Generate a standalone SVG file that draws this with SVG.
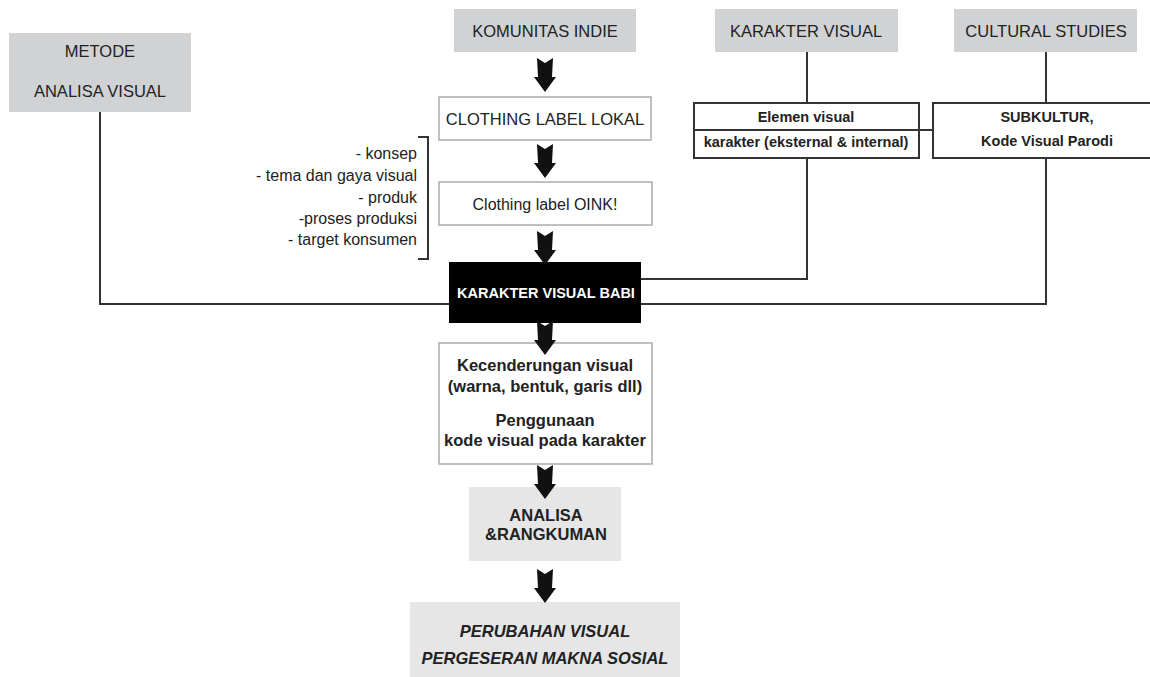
<svg xmlns="http://www.w3.org/2000/svg" width="1150" height="677" viewBox="0 0 1150 677">
<defs>
<style>
.t{font-family:"Liberation Sans",Arial,sans-serif;fill:#222;text-anchor:middle;dominant-baseline:central}
.r{font-size:16.5px}
.b{font-weight:bold}
.g{fill:#d1d2d4}
.g2{fill:#e6e6e7}
.lb{fill:#fff;stroke:#aaa;stroke-width:1.5}
.db{fill:#fff;stroke:#333;stroke-width:2}
.ln{fill:none;stroke:#333;stroke-width:2}
.li{font-family:"Liberation Sans",Arial,sans-serif;fill:#222;font-size:16px;text-anchor:end;dominant-baseline:central}
</style>
<path id="arr" d="M-8,0 L0,5 L8,0 L7,19 L11,19 L0,34 L-11,19 L-7,19 Z" fill="#111"/>
</defs>
<rect width="1150" height="677" fill="#fff"/>

<g id="connectors">
<polyline class="ln" points="100,112 100,304 449,304"/>
<polyline class="ln" points="641,279 807,279 807,158"/>
<polyline class="ln" points="641,304 1046,304 1046,158"/>
<line class="ln" x1="807" y1="52" x2="807" y2="103"/>
<line class="ln" x1="1046" y1="52" x2="1046" y2="103"/>
<line class="ln" x1="919" y1="130" x2="933" y2="130"/>
<polyline class="ln" points="418,137 428,137 428,259 418,259"/>
</g>

<g id="metode">
<rect class="g" x="9" y="33" width="182" height="79"/>
<text class="t r" x="100" y="51">METODE</text>
<text class="t r" x="100" y="91">ANALISA VISUAL</text>
</g>

<g id="komunitas">
<rect class="g" x="454" y="9" width="182" height="43"/>
<text class="t r" x="545" y="31">KOMUNITAS INDIE</text>
</g>

<g id="karakter-visual">
<rect class="g" x="715" y="9" width="183" height="43"/>
<text class="t r" x="806" y="31">KARAKTER VISUAL</text>
</g>

<g id="cultural">
<rect class="g" x="954" y="9" width="183" height="43"/>
<text class="t r" x="1046" y="31">CULTURAL STUDIES</text>
</g>

<g id="clothing-lokal">
<rect class="lb" x="439" y="97" width="212" height="43"/>
<text class="t r" x="545" y="119">CLOTHING LABEL LOKAL</text>
</g>

<g id="oink">
<rect class="lb" x="439" y="182" width="213" height="43"/>
<text class="t" style="font-size:16px" x="545" y="204">Clothing label OINK!</text>
</g>

<g id="list">
<text class="li" x="417" y="153">- konsep</text>
<text class="li" x="417" y="175">- tema dan gaya visual</text>
<text class="li" x="417" y="197">- produk</text>
<text class="li" x="417" y="218">-proses produksi</text>
<text class="li" x="417" y="239">- target konsumen</text>
</g>

<g id="elemen">
<rect class="db" x="694" y="103" width="225" height="55"/>
<line class="ln" x1="694" y1="130" x2="919" y2="130"/>
<text class="t b" style="font-size:14.5px" x="806" y="117">Elemen visual</text>
<text class="t b" style="font-size:14.5px" x="806" y="142">karakter (eksternal &amp; internal)</text>
</g>

<g id="subkultur">
<rect class="db" x="933" y="103" width="230" height="55"/>
<text class="t b" style="font-size:14.5px" x="1047" y="117">SUBKULTUR,</text>
<text class="t b" style="font-size:14.5px" x="1047" y="141">Kode Visual Parodi</text>
</g>

<g id="babi">
<rect x="449" y="262" width="192" height="61" fill="#000"/>
<text class="t b" style="font-size:14.5px;fill:#fff" x="546" y="293">KARAKTER VISUAL BABI</text>
</g>

<g id="kecenderungan">
<rect class="lb" x="439" y="343" width="213" height="121"/>
<text class="t b r" x="545" y="365">Kecenderungan visual</text>
<text class="t b r" x="545" y="386">(warna, bentuk, garis dll)</text>
<text class="t b r" x="545" y="420">Penggunaan</text>
<text class="t b r" x="545" y="440">kode visual pada karakter</text>
</g>

<g id="analisa">
<rect class="g2" x="469" y="487" width="152" height="74"/>
<text class="t b r" x="546" y="515">ANALISA</text>
<text class="t b r" x="546" y="534">&amp;RANGKUMAN</text>
</g>

<g id="perubahan">
<rect class="g2" x="410" y="602" width="270" height="75"/>
<text class="t b r" style="font-style:italic" x="545" y="631">PERUBAHAN VISUAL</text>
<text class="t b r" style="font-style:italic" x="545" y="658">PERGESERAN MAKNA SOSIAL</text>
</g>

<g id="arrows">
<use href="#arr" x="545" y="58"/>
<use href="#arr" x="545" y="144"/>
<use href="#arr" x="545" y="231"/>
<use href="#arr" x="545" y="321"/>
<use href="#arr" x="545" y="465"/>
<use href="#arr" x="545" y="569"/>
</g>
</svg>
